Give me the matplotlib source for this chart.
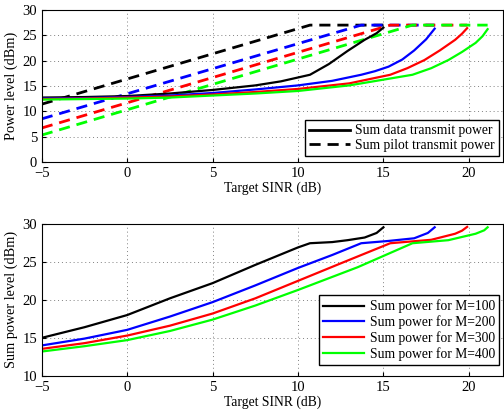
import numpy as np
import matplotlib.pyplot as plt

plt.rcParams['font.family'] = ['Liberation Serif', 'DejaVu Serif']
plt.rcParams['font.size'] = 9.8

colors = ['black', 'blue', 'red', (0, 1, 0)]
M_labels = ['100', '200', '300', '400']

# top panel: pilot power (dashed)
pilot_x = [
    [-5, 10.7, 15.0],
    [-5, 13.7, 18.0],
    [-5, 15.4, 19.9],
    [-5, 16.7, 21.1],
]
pilot_y = [
    [11.4, 27.0, 27.0],
    [8.5, 27.0, 27.0],
    [6.7, 27.0, 27.0],
    [5.3, 27.0, 27.0],
]

# top panel: data power (solid)
data_x = [
    [-5, -2.5, 0, 2.5, 5, 7.5, 9.0, 10.7, 11.8, 12.9, 13.9, 14.6, 15.0],
    [-5, -2.5, 0, 2.5, 5, 7.5, 10, 12, 13.7, 14.5, 15.3, 16.1, 16.8, 17.5, 18.0],
    [-5, -2.5, 0, 2.5, 5, 7.5, 10, 13, 15.4, 16.4, 17.4, 18.3, 19.2, 19.6, 19.9],
    [-5, -2.5, 0, 2.5, 5, 7.5, 10, 13, 16.7, 17.8, 18.8, 19.6, 20.4, 20.8, 21.1],
]
data_y = [
    [12.7, 12.8, 13.0, 13.5, 14.2, 15.1, 15.9, 17.2, 19.3, 21.9, 24.1, 25.4, 26.5],
    [12.5, 12.6, 12.8, 13.1, 13.6, 14.3, 15.1, 16.0, 17.2, 17.9, 18.8, 20.2, 22.0, 24.2, 26.3],
    [12.4, 12.5, 12.7, 12.9, 13.3, 13.8, 14.4, 15.5, 17.2, 18.5, 20.1, 22.0, 24.1, 25.3, 26.4],
    [12.3, 12.4, 12.5, 12.7, 13.1, 13.5, 14.0, 15.1, 17.2, 18.5, 20.1, 21.7, 23.5, 24.8, 26.2],
]

# bottom panel: sum power
sum_x = [
    [-5, -2.5, 0, 2.5, 5, 7.5, 10, 10.7, 12, 12.9, 13.9, 14.6, 15.0],
    [-5, -2.5, 0, 2.5, 5, 7.5, 10, 12, 13.7, 15.3, 16.8, 17.6, 18.0],
    [-5, -2.5, 0, 2.5, 5, 7.5, 10, 12.5, 15.4, 17.8, 19.2, 19.6, 19.9],
    [-5, -2.5, 0, 2.5, 5, 7.5, 10, 13.5, 16.7, 18.8, 20.4, 20.9, 21.1],
]
sum_y = [
    [15.0, 16.4, 18.0, 20.2, 22.2, 24.6, 26.9, 27.45, 27.6, 27.85, 28.2, 28.8, 29.55],
    [14.0, 14.9, 16.05, 17.8, 19.7, 21.9, 24.2, 25.9, 27.45, 27.75, 28.1, 28.8, 29.55],
    [13.55, 14.3, 15.3, 16.6, 18.2, 20.2, 22.5, 24.8, 27.45, 27.9, 28.7, 29.1, 29.6],
    [13.2, 13.9, 14.7, 15.9, 17.4, 19.25, 21.3, 24.3, 27.45, 27.85, 28.7, 29.15, 29.55],
]

fig = plt.figure(figsize=(5.04, 4.13), dpi=100)
ax1 = fig.add_axes([0.083, 0.608, 0.915, 0.368])
ax2 = fig.add_axes([0.083, 0.090, 0.915, 0.368])

dash = (0, (4, 2.5))
for i in range(4):
    ax1.plot(pilot_x[i], pilot_y[i], color=colors[i], lw=2, ls=dash)
for i in range(4):
    ax1.plot(data_x[i], data_y[i], color=colors[i], lw=1.6)

h1, = ax1.plot([], [], color='black', lw=2, label='Sum data transmit power')
h2, = ax1.plot([], [], color='black', lw=2, ls=dash, label='Sum pilot transmit power')

for i in range(4):
    ax2.plot(sum_x[i], sum_y[i], color=colors[i], lw=1.6,
             label='Sum power for M=' + M_labels[i])

for ax in (ax1, ax2):
    ax.set_xlim(-5, 22)
    ax.set_xticks([-5, 0, 5, 10, 15, 20])
    ax.set_xticklabels(['\u22125', '0', '5', '10', '15', '20'])
    ax.grid(True, ls=(0, (1, 3)), color='gray', lw=0.7)
    ax.tick_params(direction='in', length=3, labelsize=10.5)
    ax.set_xlabel('Target SINR (dB)', labelpad=1)

ax1.set_ylim(0, 30)
ax1.set_yticks(range(0, 31, 5))
ax1.set_ylabel('Power level (dBm)', labelpad=3, fontsize=10.3)
leg1 = ax1.legend(handles=[h1, h2], loc='lower right',
                  bbox_to_anchor=(0.991, 0.04), borderaxespad=0,
                  fancybox=False, edgecolor='black', framealpha=1,
                  handlelength=3, handletextpad=0.4, labelspacing=0.1,
                  borderpad=0.3)
leg1.get_frame().set_linewidth(1)

ax2.set_ylim(10, 30)
ax2.set_yticks(range(10, 31, 5))
ax2.set_ylabel('Sum power level (dBm)', labelpad=3, fontsize=10.3)
leg2 = ax2.legend(loc='lower right', bbox_to_anchor=(0.991, 0.072),
                  borderaxespad=0, fancybox=False, edgecolor='black',
                  framealpha=1, handlelength=3, handletextpad=0.4,
                  labelspacing=0.15, borderpad=0.3)
leg2.get_frame().set_linewidth(1)

fig.savefig('out.png', dpi=100)
